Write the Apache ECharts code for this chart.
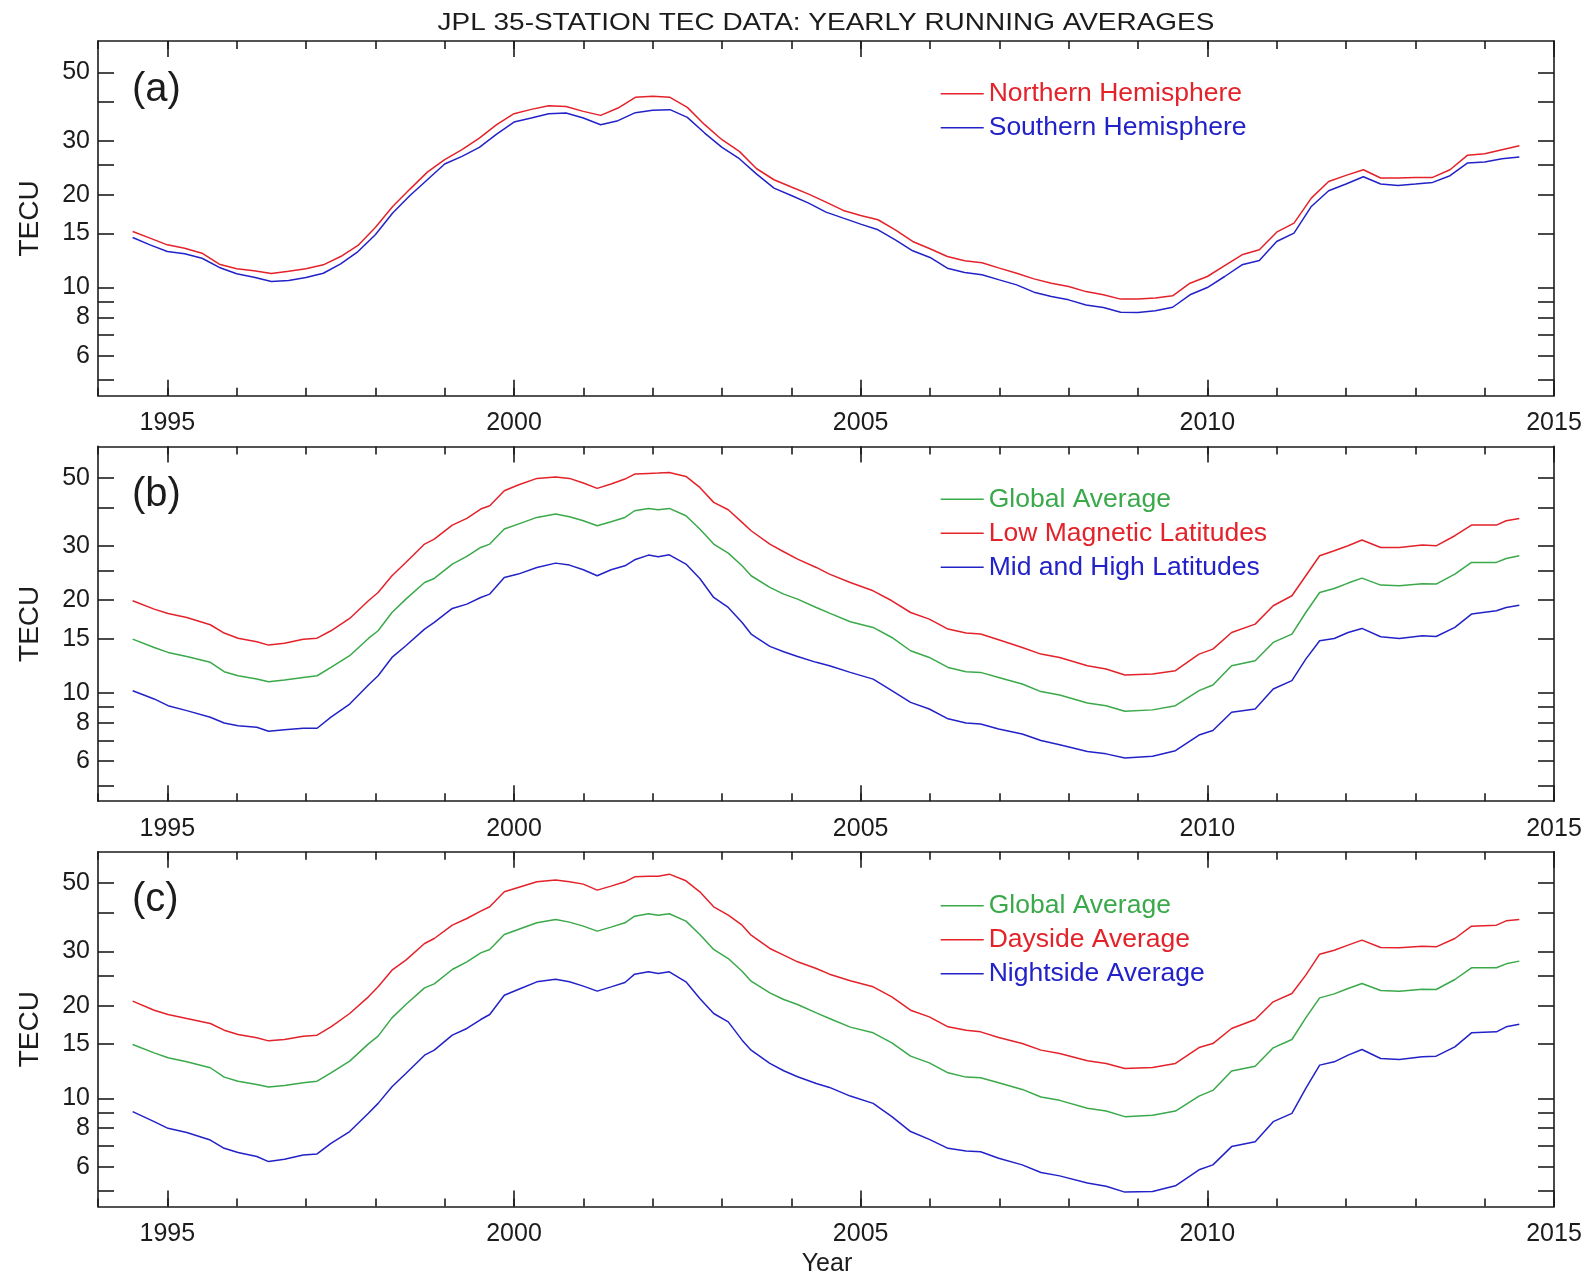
<!DOCTYPE html>
<html>
<head>
<meta charset="utf-8">
<script src="https://cdn.jsdelivr.net/npm/echarts@6/dist/echarts.min.js"></script>
<style>
  html, body { margin: 0; padding: 0; background: #ffffff; }
  #chart { width: 1587px; height: 1274px; }
</style>
</head>
<body>
<div id="chart"></div>
<script>
// ---- Panel (a): hemispheric yearly running averages (TECU), quarterly samples ----
const yearsA = [
  1994.5, 1994.75, 1995, 1995.25, 1995.5, 1995.75, 1996, 1996.25, 1996.5, 1996.75,
  1997, 1997.25, 1997.5, 1997.75, 1998, 1998.25, 1998.5, 1998.75, 1999, 1999.25,
  1999.5, 1999.75, 2000, 2000.25, 2000.5, 2000.75, 2001, 2001.25, 2001.5, 2001.75,
  2002, 2002.25, 2002.5, 2002.75, 2003, 2003.25, 2003.5, 2003.75, 2004, 2004.25,
  2004.5, 2004.75, 2005, 2005.25, 2005.5, 2005.75, 2006, 2006.25, 2006.5, 2006.75,
  2007, 2007.25, 2007.5, 2007.75, 2008, 2008.25, 2008.5, 2008.75, 2009, 2009.25,
  2009.5, 2009.75, 2010, 2010.25, 2010.5, 2010.75, 2011, 2011.25, 2011.5, 2011.75,
  2012, 2012.25, 2012.5, 2012.75, 2013, 2013.25, 2013.5, 2013.75, 2014, 2014.25,
  2014.5
];
const northernHemisphere = [
  15.21, 14.47, 13.76, 13.42, 12.93, 11.91, 11.50, 11.33, 11.11, 11.30,
  11.50, 11.85, 12.61, 13.70, 15.67, 18.34, 20.88, 23.71, 26.01, 28.03,
  30.58, 33.80, 36.69, 37.90, 38.95, 38.75, 37.34, 36.24, 38.28, 41.47,
  41.78, 41.47, 38.47, 33.80, 30.20, 27.68, 24.31, 22.39, 21.20, 20.11,
  18.95, 17.80, 17.14, 16.60, 15.40, 14.11, 13.36, 12.61, 12.21, 12.03,
  11.56, 11.13, 10.67, 10.33, 10.08, 9.70, 9.47, 9.17, 9.17, 9.24,
  9.40, 10.33, 10.86, 11.79, 12.77, 13.26, 15.13, 16.19, 19.52, 22.11,
  23.13, 24.13, 22.68, 22.68, 22.79, 22.79, 24.13, 26.87, 27.20, 28.03,
  28.88
];
const southernHemisphere = [
  14.54, 13.76, 13.09, 12.87, 12.45, 11.62, 11.08, 10.80, 10.46, 10.54,
  10.78, 11.13, 11.94, 13.09, 14.84, 17.45, 19.91, 22.39, 25.18, 26.67,
  28.52, 31.51, 34.47, 35.52, 36.69, 36.88, 35.52, 33.80, 34.83, 36.98,
  37.63, 37.82, 35.70, 31.75, 28.52, 26.20, 23.36, 21.04, 19.91, 18.80,
  17.58, 16.80, 16.07, 15.40, 14.29, 13.16, 12.52, 11.56, 11.19, 11.00,
  10.59, 10.20, 9.66, 9.35, 9.12, 8.78, 8.61, 8.31, 8.29, 8.40,
  8.63, 9.47, 10.00, 10.86, 11.85, 12.24, 14.11, 15.02, 18.34, 20.62,
  21.68, 22.90, 21.68, 21.46, 21.68, 21.95, 23.08, 25.36, 25.55, 26.20,
  26.54
];

// ---- Panels (b) and (c): sample years shared by the latitude / local-time averages ----
const yearsBC = [
  1994.5, 1994.81, 1995.01, 1995.28, 1995.62, 1995.82, 1996.02, 1996.29, 1996.46, 1996.69,
  1996.96, 1997.16, 1997.36, 1997.63, 1997.90, 1998.04, 1998.24, 1998.44, 1998.71, 1998.85,
  1999.11, 1999.32, 1999.52, 1999.65, 1999.86, 2000.06, 2000.33, 2000.60, 2000.80, 2001.00,
  2001.20, 2001.40, 2001.60, 2001.74, 2001.94, 2002.08, 2002.24, 2002.48, 2002.68, 2002.88,
  2003.09, 2003.29, 2003.42, 2003.69, 2003.89, 2004.09, 2004.36, 2004.55,
  2004.85, 2005.18, 2005.45, 2005.72, 2005.99, 2006.26, 2006.52, 2006.73, 2006.99, 2007.33,
  2007.60, 2007.87, 2008.27, 2008.54, 2008.81, 2009.21, 2009.54, 2009.88, 2010.08, 2010.35,
  2010.69, 2010.95, 2011.22, 2011.42, 2011.62, 2011.83, 2012.03, 2012.23, 2012.50, 2012.77,
  2013.10, 2013.30, 2013.57, 2013.81, 2014.17, 2014.31, 2014.5
];
const globalAverage = [
  14.95, 14.05, 13.54, 13.14, 12.57, 11.72, 11.37, 11.09, 10.88, 11.01,
  11.23, 11.37, 12.10, 13.21, 15.03, 15.92, 18.25, 20.17, 22.85, 23.54,
  26.21, 27.76, 29.68, 30.44, 34.06, 35.35, 37.16, 38.10, 37.35, 36.25,
  34.92, 35.98, 37.16, 39.06, 39.75, 39.35, 39.75, 37.63, 34.06, 30.44,
  28.45, 25.88, 24.02, 22.01, 20.94, 20.17, 18.95, 18.16,
  17.03, 16.32, 15.14, 13.71, 13.04, 12.10, 11.72, 11.66, 11.23, 10.69,
  10.10, 9.85, 9.28, 9.09, 8.72, 8.81, 9.09, 10.17, 10.61, 12.26,
  12.72, 14.59, 15.53, 18.25, 21.20, 21.84, 22.74, 23.60, 22.40, 22.29,
  22.62, 22.57, 24.32, 26.54, 26.54, 27.34, 27.90
];
const lowMagneticLatitudes = [
  19.92, 18.72, 18.12, 17.58, 16.65, 15.65, 15.06, 14.66, 14.30, 14.51,
  14.95, 15.06, 15.92, 17.45, 19.92, 21.20, 24.02, 26.54, 30.44, 31.60,
  35.09, 36.89, 39.55, 40.55, 45.36, 47.33, 49.75, 50.25, 49.75, 48.04,
  46.17, 47.69, 49.50, 51.39, 51.64, 51.77, 52.03, 50.50, 46.50, 41.58,
  39.35, 35.80, 33.63, 30.44, 28.74, 27.20, 25.56, 24.32,
  22.85, 21.46, 19.92, 18.25, 17.37, 16.12, 15.65, 15.53, 14.88, 14.05,
  13.37, 13.04, 12.26, 11.96, 11.43, 11.52, 11.81, 13.37, 13.88, 15.72,
  16.73, 19.19, 20.68, 24.02, 27.90, 28.95, 30.05, 31.37, 29.68, 29.68,
  30.21, 30.05, 32.40, 35.09, 35.09, 36.25, 36.89
];
const midHighLatitudes = [
  10.17, 9.56, 9.09, 8.76, 8.34, 7.99, 7.83, 7.74, 7.51, 7.59,
  7.68, 7.68, 8.34, 9.20, 10.61, 11.37, 13.04, 14.23, 16.12, 16.94,
  18.81, 19.43, 20.42, 20.94, 23.72, 24.32, 25.56, 26.40, 26.01, 25.12,
  24.02, 25.12, 25.88, 27.07, 28.03, 27.69, 28.10, 26.21, 23.54, 20.42,
  18.95, 16.94, 15.53, 14.16, 13.60, 13.14, 12.57, 12.26,
  11.66, 11.09, 10.17, 9.32, 8.87, 8.24, 7.99, 7.93, 7.64, 7.36,
  7.01, 6.79, 6.45, 6.34, 6.15, 6.23, 6.49, 7.30, 7.55, 8.66,
  8.87, 10.30, 10.96, 12.88, 14.77, 15.03, 15.72, 16.20, 15.22, 15.03,
  15.33, 15.25, 16.32, 18.03, 18.49, 18.95, 19.28
];
const daysideAverage = [
  20.68, 19.33, 18.72, 18.16, 17.50, 16.65, 16.12, 15.72, 15.37, 15.53,
  15.92, 16.04, 17.07, 18.86, 21.36, 23.02, 26.08, 28.10, 31.84, 33.05,
  36.52, 38.38, 40.55, 41.89, 46.86, 48.41, 50.50, 51.14, 50.50, 49.63,
  47.45, 48.89, 50.50, 52.42, 52.68, 52.68, 53.47, 50.88, 46.86, 41.89,
  39.35, 36.52, 33.89, 30.67, 29.17, 27.76, 26.40, 25.31,
  24.08, 23.02, 21.36, 19.33, 18.39, 17.07, 16.65, 16.44, 15.76, 15.06,
  14.34, 13.98, 13.24, 12.98, 12.50, 12.60, 12.98, 14.62, 15.06, 16.86,
  18.03, 20.58, 21.90, 25.12, 29.39, 30.28, 31.45, 32.64, 30.90, 30.82,
  31.21, 31.05, 33.05, 36.25, 36.52, 37.72, 38.10
];
const nightsideAverage = [
  9.05, 8.40, 7.99, 7.74, 7.32, 6.88, 6.67, 6.47, 6.23, 6.34,
  6.55, 6.60, 7.14, 7.80, 8.94, 9.63, 10.90, 12.04, 13.81, 14.34,
  16.04, 16.86, 18.03, 18.72, 21.62, 22.57, 23.90, 24.38, 23.90, 23.14,
  22.29, 23.02, 23.78, 25.31, 25.75, 25.44, 25.75, 23.90, 21.09, 18.86,
  17.72, 15.45, 14.34, 12.98, 12.29, 11.75, 11.17, 10.85,
  10.17, 9.63, 8.72, 7.80, 7.36, 6.88, 6.75, 6.71, 6.39, 6.08,
  5.74, 5.60, 5.31, 5.18, 4.96, 4.98, 5.20, 5.86, 6.08, 6.97,
  7.23, 8.40, 8.94, 10.77, 12.82, 13.14, 13.81, 14.41, 13.47, 13.37,
  13.64, 13.71, 14.70, 16.32, 16.44, 17.07, 17.41
];

// ---- Axis ticks and labels ----
const yTickValues = [5, 6, 7, 8, 9, 10, 15, 20, 25, 30, 40, 50];
const yLabelValues = [6, 8, 10, 15, 20, 30, 50];
const xMajorYears = [1995, 2000, 2005, 2010, 2015];

// ---- Styling ----
const FONT = '"Liberation Sans", Arial, Helvetica, sans-serif';
const INK = '#1c1c1c';
const RED = '#e3222a';
const BLUE = '#2222c8';
const GREEN = '#3aa94a';
const AXIS_W = 1.6;

// The TECU axis is logarithmic: values are plotted as log10 on a linear value axis.
const lg = Math.log10;
const Y_MIN = lg(4.45);
const Y_MAX = lg(63.2);

const GRID_LEFT = 98;
const GRID_WIDTH = 1456;
const GRID_HEIGHT = 354.8;

const panels = [
  {
    tag: '(a)', top: 41, legendTop: 80.2,
    series: [
      { name: 'Northern Hemisphere', color: RED, years: yearsA, values: northernHemisphere },
      { name: 'Southern Hemisphere', color: BLUE, years: yearsA, values: southernHemisphere }
    ]
  },
  {
    tag: '(b)', top: 446.4, legendTop: 485.8,
    series: [
      { name: 'Global Average', color: GREEN, years: yearsBC, values: globalAverage },
      { name: 'Low Magnetic Latitudes', color: RED, years: yearsBC, values: lowMagneticLatitudes },
      { name: 'Mid and High Latitudes', color: BLUE, years: yearsBC, values: midHighLatitudes }
    ]
  },
  {
    tag: '(c)', top: 851.8, legendTop: 892.3,
    series: [
      { name: 'Global Average', color: GREEN, years: yearsBC, values: globalAverage },
      { name: 'Dayside Average', color: RED, years: yearsBC, values: daysideAverage },
      { name: 'Nightside Average', color: BLUE, years: yearsBC, values: nightsideAverage }
    ]
  }
];

const grid = [], xAxis = [], yAxis = [], series = [], legend = [], graphic = [];

const lineStyle = { color: INK, width: AXIS_W };
const tickStyle = { color: INK, width: AXIS_W };

panels.forEach((p, i) => {
  grid.push({
    left: GRID_LEFT, top: p.top, width: GRID_WIDTH, height: GRID_HEIGHT,
    containLabel: false, outerBoundsMode: 'none'
  });

  const xBase = { gridIndex: i, type: 'value', min: 1994, max: 2015, splitLine: { show: false } };
  // bottom: yearly ticks with labels every five years
  xAxis.push(Object.assign({}, xBase, {
    position: 'bottom', interval: 1,
    axisLine: { show: true, onZero: false, lineStyle },
    axisTick: { show: true, inside: true, length: 8, lineStyle: tickStyle },
    axisLabel: {
      show: true, customValues: xMajorYears, margin: 15,
      fontSize: 25, fontFamily: FONT, color: INK, formatter: v => String(v)
    }
  }));
  // bottom: long ticks every five years
  xAxis.push(Object.assign({}, xBase, {
    position: 'bottom',
    axisLine: { show: false },
    axisTick: { show: true, inside: true, length: 16, customValues: xMajorYears, lineStyle: tickStyle },
    axisLabel: { show: false }
  }));
  // top mirror
  xAxis.push(Object.assign({}, xBase, {
    position: 'top', interval: 1,
    axisLine: { show: true, onZero: false, lineStyle },
    axisTick: { show: true, inside: true, length: 8, lineStyle: tickStyle },
    axisLabel: { show: false }
  }));
  xAxis.push(Object.assign({}, xBase, {
    position: 'top',
    axisLine: { show: false },
    axisTick: { show: true, inside: true, length: 16, customValues: xMajorYears, lineStyle: tickStyle },
    axisLabel: { show: false }
  }));

  const yBase = { gridIndex: i, type: 'value', min: Y_MIN, max: Y_MAX, splitLine: { show: false } };
  yAxis.push(Object.assign({}, yBase, {
    position: 'left',
    axisLine: { show: true, onZero: false, lineStyle },
    axisTick: { show: true, inside: true, length: 16, customValues: yTickValues.map(lg), lineStyle: tickStyle },
    axisLabel: {
      show: true, customValues: yLabelValues.map(lg), margin: 8,
      fontSize: 25, fontFamily: FONT, color: INK,
      formatter: v => String(Math.round(Math.pow(10, v)))
    }
  }));
  yAxis.push(Object.assign({}, yBase, {
    position: 'right',
    axisLine: { show: true, onZero: false, lineStyle },
    axisTick: { show: true, inside: true, length: 16, customValues: yTickValues.map(lg), lineStyle: tickStyle },
    axisLabel: { show: false }
  }));

  p.series.forEach(s => {
    series.push({
      name: s.name, type: 'line',
      xAxisIndex: 4 * i, yAxisIndex: 2 * i,
      data: s.years.map((yr, k) => [yr, lg(s.values[k])]),
      symbol: 'none', showSymbol: false, smooth: false,
      lineStyle: { color: s.color, width: 1.5 },
      itemStyle: { color: s.color },
      silent: true, animation: false
    });
  });

  legend.push({
    orient: 'vertical', left: 940, top: p.legendTop, padding: 0,
    itemWidth: 43, itemHeight: 14, itemGap: 7, itemTextGap: 4,
    selectedMode: false,
    itemStyle: { opacity: 0 },
    lineStyle: { width: 1.4 },
    textStyle: { fontSize: 26.5, fontFamily: FONT },
    data: p.series.map(s => ({ name: s.name, textStyle: { color: s.color } }))
  });

  graphic.push({
    type: 'text', x: 132, y: p.top + 48.5,
    style: { text: p.tag, fontSize: 40, fontFamily: FONT, fill: INK, align: 'left', verticalAlign: 'middle' }
  });
  graphic.push({
    type: 'text', x: 30, y: p.top + GRID_HEIGHT / 2, rotation: Math.PI / 2,
    style: { text: 'TECU', fontSize: 28, fontFamily: FONT, fill: INK, align: 'center', verticalAlign: 'middle' }
  });
});

graphic.push({
  type: 'text', x: 826, y: 23, scaleX: 1.165,
  style: {
    text: 'JPL 35-STATION TEC DATA: YEARLY RUNNING AVERAGES',
    fontSize: 24, fontFamily: FONT, fill: INK, align: 'center', verticalAlign: 'middle'
  }
});
graphic.push({
  type: 'text', x: 827, y: 1264,
  style: { text: 'Year', fontSize: 25, fontFamily: FONT, fill: INK, align: 'center', verticalAlign: 'middle' }
});

const chart = echarts.init(document.getElementById('chart'), null, { renderer: 'canvas' });
chart.setOption({
  backgroundColor: '#ffffff',
  animation: false,
  grid, xAxis, yAxis, series, legend, graphic
});
</script>
</body>
</html>
